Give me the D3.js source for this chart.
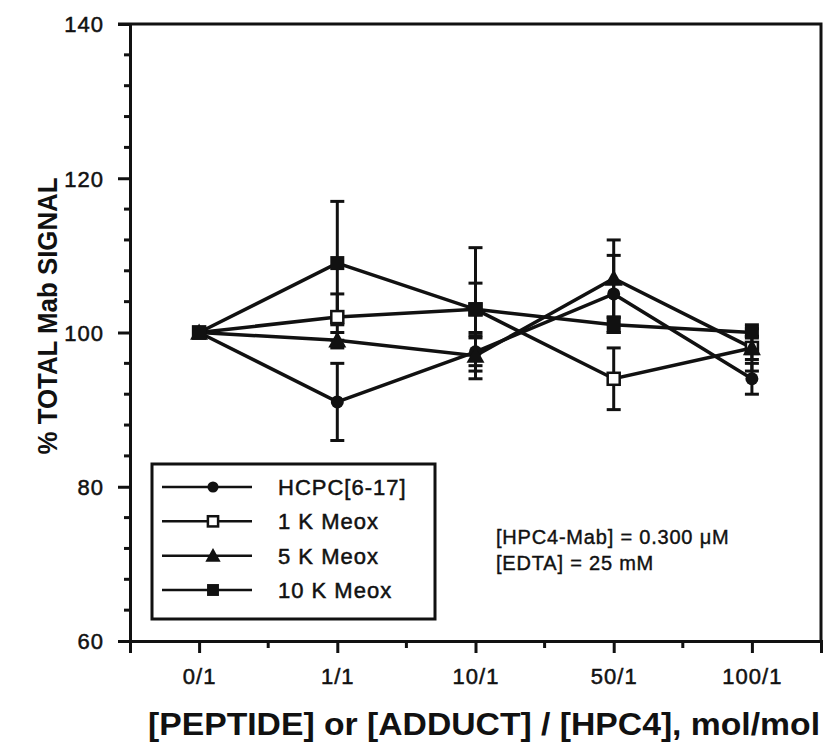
<!DOCTYPE html>
<html lang="en">
<head>
    <meta charset="UTF-8">
    <title>% TOTAL Mab SIGNAL</title>
</head>
<script src="https://d3js.org/d3.v7.min.js"></script>
<body>
<div id="chart" style="width: 823px;height: 743px;"></div>
</body>
</html>
<style>
    *{margin: 0;padding: 0}
    body{background: #fff}
    text{font-family: "Liberation Sans", Arial, Helvetica, sans-serif; fill: #111}
    .tick-lbl{font-size: 22px; letter-spacing: 1px; stroke: #111; stroke-width: 0.5px}
    .title{font-weight: bold}
    .legend text{font-size: 22px; letter-spacing: 1px; stroke: #111; stroke-width: 0.5px}
    .note{font-size: 20px; letter-spacing: 0.8px; stroke: #111; stroke-width: 0.4px}
</style>

<script>
    // x categories: ratio peptide (or adduct) / HPC4
    var categories = ['0/1', '1/1', '10/1', '50/1', '100/1'];

    var seriesNames = ['HCPC[6-17]', '1 K Meox', '5 K Meox', '10 K Meox'];
    var seriesSymbols = ['circle', 'openSquare', 'triangle', 'square'];

    // % total Mab signal
    var hcpcValues  = [100, 91, 97.5, 105, 94];
    var meox1Values = [100, 102, 103, 94, 98];
    var meox5Values = [100, 99, 97, 107, 98];
    var meox10Values = [100, 109, 103, 101, 100];

    // half-length of the error bars
    var hcpcErr  = [0, 5, 1.8, 5, 2];
    var meox1Err = [0, 3, 3.4, 4, 1.5];
    var meox5Err = [0, 1, 3, 5, 3];
    var meox10Err = [0, 8, 8, 1, 0.5];

    var yTicks = [60, 80, 100, 120, 140];

    var series = [
        {name: seriesNames[0], sym: seriesSymbols[0], values: hcpcValues, err: hcpcErr},
        {name: seriesNames[1], sym: seriesSymbols[1], values: meox1Values, err: meox1Err},
        {name: seriesNames[2], sym: seriesSymbols[2], values: meox5Values, err: meox5Err},
        {name: seriesNames[3], sym: seriesSymbols[3], values: meox10Values, err: meox10Err}
    ];

    var width = 823, height = 743;
    // plot box (note: "top" is taken by window.top, so use other names)
    var pLeft = 130, pRight = 821, pTop = 24, pBottom = 641;

    var svg = d3.select('#chart').append('svg')
        .attr('width', width)
        .attr('height', height);

    var x = d3.scalePoint().domain(categories).range([pLeft, pRight]).padding(0.5);
    var y = d3.scaleLinear().domain([60, 140]).range([pBottom, pTop]);

    /* frame and axes */
    svg.append('path')
        .attr('d', 'M' + (pLeft - 12) + ',' + pTop + 'H' + pRight + 'V' + pBottom)
        .attr('fill', 'none').attr('stroke', '#111').attr('stroke-width', 3);

    var yAxis = svg.append('g')
        .attr('transform', 'translate(' + pLeft + ',0)')
        .call(d3.axisLeft(y).tickValues(yTicks).tickSize(12).tickPadding(14));
    yAxis.select('.domain').attr('stroke-width', 3).attr('stroke', '#111');
    yAxis.selectAll('.tick line').attr('stroke-width', 3).attr('stroke', '#111');
    yAxis.selectAll('.tick text').attr('class', 'tick-lbl').attr('font-size', null).attr('font-family', null)
        .attr('fill', null).attr('dy', '0.36em');

    var yMinor = d3.range(64, 140, 4).filter(function (v) { return v % 20 !== 0; });
    svg.append('g').selectAll('line').data(yMinor).enter().append('line')
        .attr('x1', pLeft - 6).attr('x2', pLeft)
        .attr('y1', y).attr('y2', y)
        .attr('stroke', '#111').attr('stroke-width', 3);

    var xAxis = svg.append('g')
        .attr('transform', 'translate(0,' + pBottom + ')')
        .call(d3.axisBottom(x).tickSize(12).tickPadding(15));
    xAxis.select('.domain').attr('stroke-width', 3).attr('stroke', '#111');
    xAxis.selectAll('.tick line').attr('stroke-width', 3).attr('stroke', '#111');
    xAxis.selectAll('.tick text').attr('class', 'tick-lbl').attr('font-size', null).attr('font-family', null)
        .attr('fill', null);

    var step = x.step();
    var xMinor = categories.slice(0, -1).map(function (c) { return x(c) + step / 2; });
    svg.append('g').selectAll('line').data(xMinor).enter().append('line')
        .attr('x1', function (d) { return d; }).attr('x2', function (d) { return d; })
        .attr('y1', pBottom).attr('y2', pBottom + 7)
        .attr('stroke', '#111').attr('stroke-width', 3);

    svg.append('text')
        .attr('class', 'title')
        .attr('font-size', 27)
        .attr('textLength', 277)
        .attr('lengthAdjust', 'spacingAndGlyphs')
        .attr('transform', 'translate(57,316) rotate(-90)')
        .attr('text-anchor', 'middle')
        .text('% TOTAL Mab SIGNAL');

    svg.append('text')
        .attr('class', 'title')
        .attr('font-size', 31)
        .attr('textLength', 672)
        .attr('lengthAdjust', 'spacingAndGlyphs')
        .attr('x', 484).attr('y', 735)
        .attr('text-anchor', 'middle')
        .text('[PEPTIDE] or [ADDUCT] / [HPC4], mol/mol');

    /* markers */
    function drawSymbol(g, sym, cx, cy, scale) {
        var s = scale || 1;
        if (sym === 'circle') {
            g.append('circle').attr('cx', cx).attr('cy', cy).attr('r', 6.5 * s).attr('fill', '#111');
        } else if (sym === 'openSquare') {
            var h = 6 * s;
            g.append('rect').attr('x', cx - h).attr('y', cy - h).attr('width', 2 * h).attr('height', 2 * h)
                .attr('fill', '#fff').attr('stroke', '#111').attr('stroke-width', 2.5);
        } else if (sym === 'triangle') {
            var t = 9 * s;
            g.append('path')
                .attr('d', 'M' + cx + ',' + (cy - t) + 'L' + (cx + t) + ',' + (cy + t * 0.8) + 'L' + (cx - t) + ',' + (cy + t * 0.8) + 'Z')
                .attr('fill', '#111');
        } else {
            var q = 7 * s;
            g.append('rect').attr('x', cx - q).attr('y', cy - q).attr('width', 2 * q).attr('height', 2 * q).attr('fill', '#111');
        }
    }

    var line = d3.line()
        .x(function (d, i) { return x(categories[i]); })
        .y(function (d) { return y(d); });

    var plot = svg.append('g');

    series.forEach(function (s) {
        plot.append('path')
            .attr('d', line(s.values))
            .attr('fill', 'none').attr('stroke', '#111').attr('stroke-width', 3.5)
            .attr('stroke-linejoin', 'miter');
    });

    series.forEach(function (s) {
        var g = plot.append('g');
        s.values.forEach(function (v, i) {
            var e = s.err[i];
            if (!e) return;
            var cx = x(categories[i]);
            g.append('line').attr('x1', cx).attr('x2', cx).attr('y1', y(v - e)).attr('y2', y(v + e))
                .attr('stroke', '#111').attr('stroke-width', 3);
            [v - e, v + e].forEach(function (c) {
                g.append('line').attr('x1', cx - 7).attr('x2', cx + 7).attr('y1', y(c)).attr('y2', y(c))
                    .attr('stroke', '#111').attr('stroke-width', 3);
            });
        });
    });

    series.forEach(function (s) {
        var g = plot.append('g');
        s.values.forEach(function (v, i) {
            drawSymbol(g, s.sym, x(categories[i]), y(v));
        });
    });

    /* legend */
    var legend = svg.append('g').attr('class', 'legend');
    legend.append('rect')
        .attr('x', 152).attr('y', 464).attr('width', 283).attr('height', 155)
        .attr('fill', '#fff').attr('stroke', '#111').attr('stroke-width', 3);
    var rowY = d3.scalePoint().domain(seriesNames).range([487, 590]);
    series.forEach(function (s) {
        var ly = rowY(s.name);
        legend.append('line').attr('x1', 162).attr('x2', 252).attr('y1', ly).attr('y2', ly)
            .attr('stroke', '#111').attr('stroke-width', 2.5);
        drawSymbol(legend, s.sym, 213, ly, 0.85);
        legend.append('text').attr('x', 278).attr('y', ly + 8).text(s.name);
    });

    /* conditions */
    var note = svg.append('g').attr('class', 'note');
    note.append('text').attr('x', 496).attr('y', 544).text('[HPC4-Mab]  =  0.300 \u03bcM');
    note.append('text').attr('x', 496).attr('y', 570).text('[EDTA]  =  25 mM');
</script>
